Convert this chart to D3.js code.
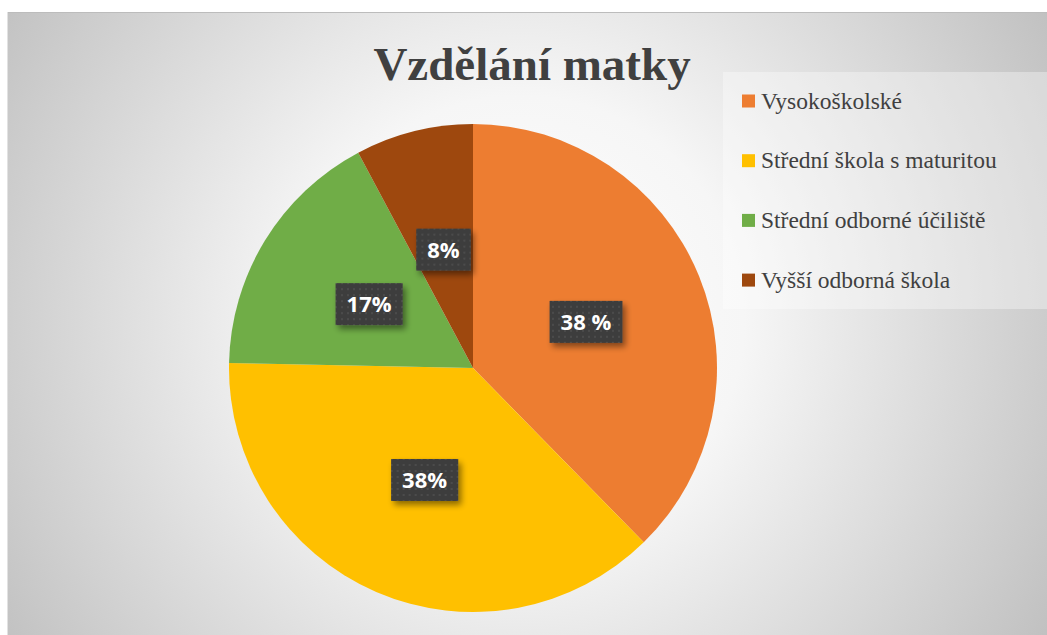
<!DOCTYPE html>
<html><head><meta charset="utf-8">
<script src="https://cdn.jsdelivr.net/npm/d3@7"></script>
<style>html,body{margin:0;padding:0;background:#fff;}</style>
</head><body>
<svg id="c" width="1047" height="635"></svg>
<script>
const categories = ["Vysokoškolské", "Střední škola s maturitou", "Střední odborné účiliště", "Vyšší odborná škola"];
const values = [37.7, 37.7, 16.9, 7.8];
const valueLabels = ["38 %", "38%", "17%", "8%"];
const colors = ["#ED7D31", "#FFC000", "#70AD47", "#9E480E"];
const title = "Vzdělání matky";

const serif = "Liberation Serif, Tinos, DejaVu Serif, Times New Roman, serif";
const svg = d3.select("#c");
const defs = svg.append("defs");
const rg = defs.append("radialGradient").attr("id","bg").attr("gradientUnits","userSpaceOnUse")
  .attr("cx",520).attr("cy",320).attr("r",640);
rg.append("stop").attr("offset","0%").attr("stop-color","#ffffff");
rg.append("stop").attr("offset","35%").attr("stop-color","#f6f6f6");
rg.append("stop").attr("offset","100%").attr("stop-color","#bdbdbd");

const pat = defs.append("pattern").attr("id","dots").attr("patternUnits","userSpaceOnUse").attr("width",6).attr("height",6);
pat.append("rect").attr("width",6).attr("height",6).attr("fill","#3d3d3d");
pat.append("rect").attr("x",2).attr("y",2).attr("width",2).attr("height",2).attr("fill","#4c4c4c");

const sh = defs.append("filter").attr("id","sh").attr("x","-30%").attr("y","-30%").attr("width","170%").attr("height","170%");
sh.append("feGaussianBlur").attr("in","SourceAlpha").attr("stdDeviation",3);
sh.append("feOffset").attr("dx",3).attr("dy",4).attr("result","b");
sh.append("feComponentTransfer").append("feFuncA").attr("type","linear").attr("slope",0.45);
const m = sh.append("feMerge"); m.append("feMergeNode"); m.append("feMergeNode").attr("in","SourceGraphic");

svg.append("rect").attr("x",7).attr("y",12).attr("width",1040).attr("height",623).attr("fill","url(#bg)");
svg.append("line").attr("x1",7).attr("x2",1047).attr("y1",12.5).attr("y2",12.5).attr("stroke","#bcbcbc").attr("stroke-width",1);
svg.append("line").attr("x1",7.5).attr("x2",7.5).attr("y1",12).attr("y2",635).attr("stroke","#e2e2e2").attr("stroke-width",1);

svg.append("text").attr("x",532).attr("y",80).attr("text-anchor","middle")
  .style("font-family",serif).attr("font-weight","bold")
  .attr("font-size",47).attr("fill","#404040").text(title);

const cx = 473, cy = 368, R = 244;
const pie = d3.pie().sort(null).value(d=>d);
const arcs = pie(values);
const arc = d3.arc().innerRadius(0).outerRadius(R);
const g = svg.append("g").attr("transform",`translate(${cx},${cy})`);
g.selectAll("path").data(arcs).join("path").attr("d",arc).attr("fill",(d,i)=>colors[i]);

const labelArc = d3.arc().innerRadius(R*0.5).outerRadius(R*0.5);
const lab = g.selectAll("g.lab").data(arcs).join("g").attr("class","lab")
  .attr("transform",d=>`translate(${labelArc.centroid(d)})`);
lab.each(function(d,i){
  const s=d3.select(this);
  const t=s.append("text").attr("text-anchor","middle").attr("dy","0.36em")
    .attr("font-family","'Open Sans',sans-serif").attr("font-weight","bold").attr("font-size",22)
    .attr("fill","#ffffff").text(valueLabels[i]);
  const bb=t.node().getBBox();
  const pw=11;
  s.insert("rect","text").attr("x",bb.x-pw).attr("y",-21).attr("width",bb.width+2*pw).attr("height",42)
    .attr("fill","url(#dots)").attr("filter","url(#sh)");
});

const lg = svg.append("g");
lg.append("rect").attr("x",723).attr("y",72).attr("width",324).attr("height",237).attr("fill","#ffffff").attr("opacity",0.35);
const items = lg.selectAll("g.it").data(categories).join("g").attr("class","it")
  .attr("transform",(d,i)=>`translate(742,${101+i*59.7})`);
items.append("rect").attr("x",0).attr("y",-6.5).attr("width",13).attr("height",13).attr("fill",(d,i)=>colors[i]);
items.append("text").attr("x",19).attr("y",0).attr("dy","0.33em")
  .style("font-family",serif).attr("font-size",23.5).attr("fill","#404040").text(d=>d);
</script>
</body></html>
